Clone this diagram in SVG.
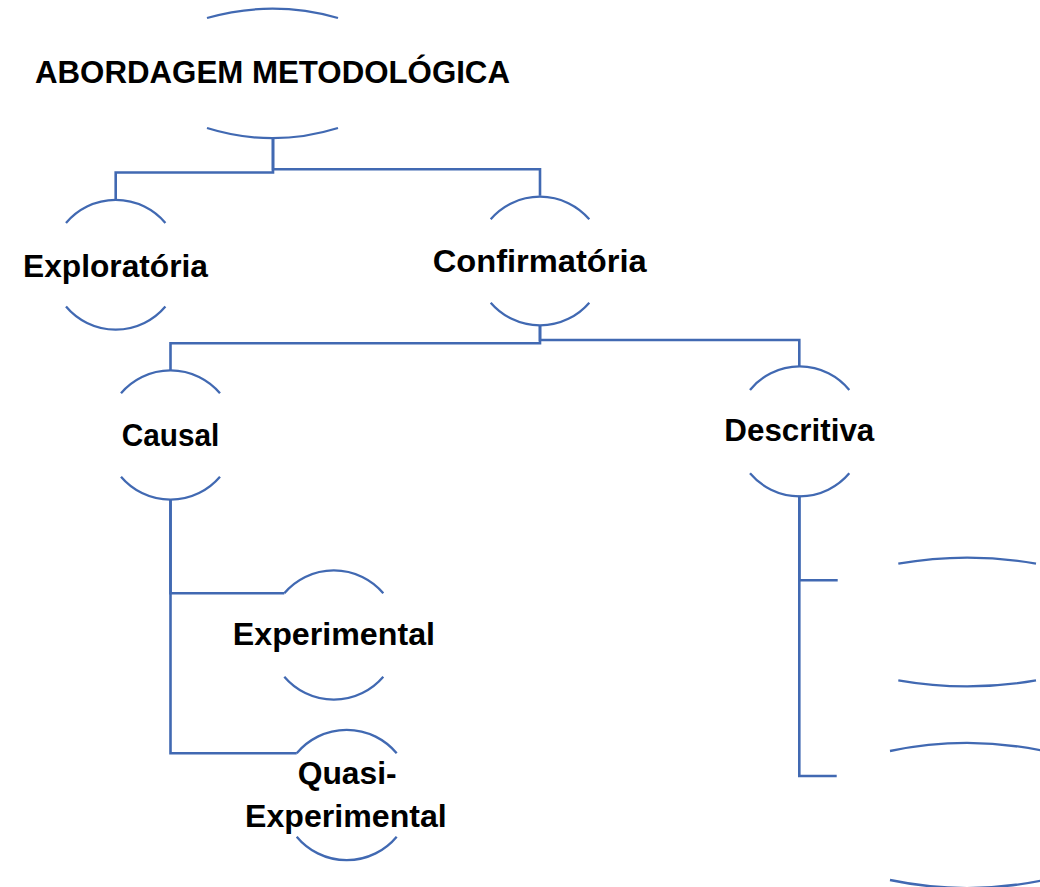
<svg xmlns="http://www.w3.org/2000/svg" width="1040" height="887" viewBox="0 0 1040 887">
<style>
.arc{fill:none;stroke:#4169B2;stroke-width:2.3;}
.con{fill:none;stroke:#4169B2;stroke-width:2.6;}
.lbl{font-family:"Liberation Sans",Arial,sans-serif;font-weight:bold;font-size:31px;fill:#000;text-anchor:middle;}
</style>
<rect width="1040" height="887" fill="#fff"/>
<g id="connectors">
<path class="con" d="M273,138 V172.5 H115.7 V200"/>
<path class="con" d="M273,138 V169.3 H540 V195.7"/>
<path class="con" d="M540,325 V343.3 H170.5 V370.7"/>
<path class="con" d="M540,325 V340 H799.3 V366"/>
<path class="con" d="M170.5,499.3 V593.3 H284.3"/>
<path class="con" d="M170.5,499.3 V753.3 H296.7"/>
<path class="con" d="M799.3,495.7 V580.3 H837.7"/>
<path class="con" d="M799.3,495.7 V776 H836.7"/>
</g>
<g id="node-abordagem">
<path class="arc" d="M207,18 A240,240 0 0 1 338,18"/>
<path class="arc" d="M207,128 A220,220 0 0 0 338,128"/>
<text class="lbl" x="272.5" y="83" textLength="475" lengthAdjust="spacingAndGlyphs">ABORDAGEM METODOLÓGICA</text>
</g>
<g id="node-exploratoria">
<path class="arc" d="M66,223 A65,65 0 0 1 165.4,223"/>
<path class="arc" d="M66,306.5 A65,65 0 0 0 165.4,306.5"/>
<text class="lbl" x="115.5" y="277" textLength="185" lengthAdjust="spacingAndGlyphs">Exploratória</text>
</g>
<g id="node-confirmatoria">
<path class="arc" d="M490.7,219.3 A65,65 0 0 1 589.3,219.3"/>
<path class="arc" d="M490.7,302.7 A65,65 0 0 0 589.3,302.7"/>
<text class="lbl" x="539.7" y="271.7" textLength="214" lengthAdjust="spacingAndGlyphs">Confirmatória</text>
</g>
<g id="node-causal">
<path class="arc" d="M121,393.3 A65,65 0 0 1 220,393.3"/>
<path class="arc" d="M121,476.7 A65,65 0 0 0 220,476.7"/>
<text class="lbl" x="170.5" y="446" textLength="97.6" lengthAdjust="spacingAndGlyphs">Causal</text>
</g>
<g id="node-descritiva">
<path class="arc" d="M750,390 A64,64 0 0 1 849.3,390"/>
<path class="arc" d="M750,473.3 A65,65 0 0 0 849.3,473.3"/>
<text class="lbl" x="799.3" y="441" textLength="150" lengthAdjust="spacingAndGlyphs">Descritiva</text>
</g>
<g id="node-experimental">
<path class="arc" d="M284.3,593.3 A65,65 0 0 1 383.3,593.3"/>
<path class="arc" d="M284.3,676.7 A65,65 0 0 0 383.3,676.7"/>
<text class="lbl" x="333.9" y="645" textLength="202.3" lengthAdjust="spacingAndGlyphs">Experimental</text>
</g>
<g id="node-quasi">
<path class="arc" d="M296.7,753.3 A65,65 0 0 1 396.7,753.3"/>
<path class="arc" d="M296.7,836.7 A65,65 0 0 0 396.7,836.7"/>
<text class="lbl" x="347.2" y="784" textLength="99" lengthAdjust="spacingAndGlyphs">Quasi-</text>
<text class="lbl" x="345.9" y="826.7" textLength="201.7" lengthAdjust="spacingAndGlyphs">Experimental</text>
</g>
<g id="node-right-1">
<path class="arc" d="M898.3,563.7 A397,397 0 0 1 1036,563.7"/>
<path class="arc" d="M898.3,680.3 A397,397 0 0 0 1036,680.3"/>
</g>
<g id="node-right-2">
<path class="arc" d="M890,751 A375,375 0 0 1 1044,751"/>
<path class="arc" d="M890,880 A375,375 0 0 0 1044,880"/>
</g>
</svg>
